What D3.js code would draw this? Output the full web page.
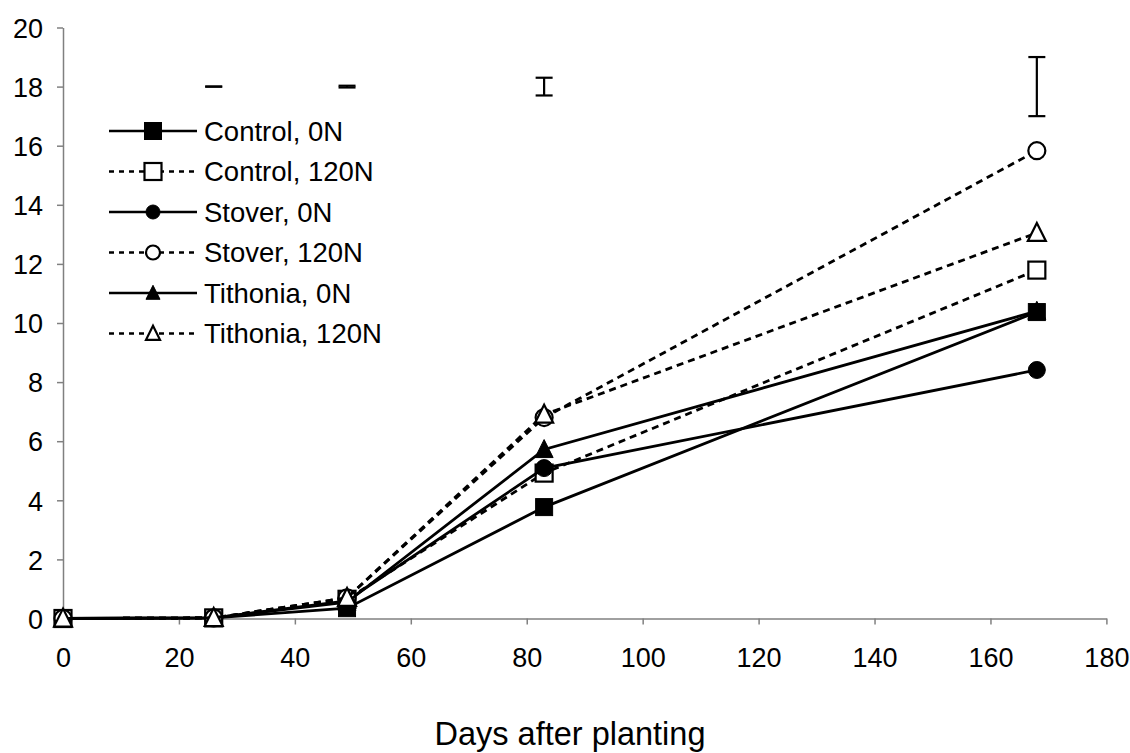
<!DOCTYPE html>
<html lang="en">
<head>
    <meta charset="utf-8">
    <title>Days after planting</title>
    <script src="https://d3js.org/d3.v7.min.js"></script>
    <style type="text/css">
        body{
            margin: 0;
            background: #fff;
        }
        text{
            font-family: "Liberation Sans", Arial, sans-serif;
            fill: #000;
        }
        .tick text{
            font-size: 27px;
        }
        .legend text{
            font-size: 27.5px;
        }
    </style>
</head>
<body>
    <div id="frame"></div>
    <script type="text/javascript">

        // days after planting
        const days = [0, 26, 49, 83, 168];

        const seriesNames = ["Control, 0N", "Control, 120N", "Stover, 0N", "Stover, 120N", "Tithonia, 0N", "Tithonia, 120N"];

        const control0 = [0, 0.02, 0.35, 3.77, 10.37];
        const control120 = [0, 0.02, 0.65, 4.92, 11.79];
        const stover0 = [0, 0.02, 0.6, 5.09, 8.41];
        const stover120 = [0, 0.02, 0.7, 6.8, 15.83];
        const tithonia0 = [0, 0.02, 0.55, 5.72, 10.4];
        const tithonia120 = [0, 0.02, 0.7, 6.9, 13.05];

        // LSD bars drawn at the top
        const errDays = [26, 49, 83, 168];
        const errCenter = [18, 18, 18, 18];
        const errHalf = [0.0, 0.03, 0.3, 1.0];

        const xTicks = [0, 20, 40, 60, 80, 100, 120, 140, 160, 180];
        const yTicks = [0, 2, 4, 6, 8, 10, 12, 14, 16, 18, 20];

        const w = 1130, h = 753;
        const mLeft = 63, mRight = 1106.4, mTop = 27.5, mBottom = 618.5;

        const svg = d3.select("#frame").append("svg")
            .attr("width", w)
            .attr("height", h);

        const x = d3.scaleLinear().domain([0, 180]).range([mLeft, mRight]);
        const y = d3.scaleLinear().domain([0, 20]).range([mBottom, mTop]);

        //axes
        const xAxis = svg.append("g")
            .attr("transform", "translate(0," + mBottom + ")")
            .call(d3.axisBottom(x).tickValues(xTicks).tickSize(6).tickPadding(22).tickSizeOuter(0));
        const yAxis = svg.append("g")
            .attr("transform", "translate(" + mLeft + ",0)")
            .call(d3.axisLeft(y).tickValues(yTicks).tickSize(6).tickPadding(14).tickSizeOuter(0));

        [xAxis, yAxis].forEach(a => {
            a.select(".domain").attr("stroke", "#808080").attr("stroke-width", 1.5);
            a.selectAll(".tick line").attr("stroke", "#808080").attr("stroke-width", 1.5);
        });
        xAxis.selectAll(".tick text").attr("dy", "0.71em").attr("y", 29);
        yAxis.selectAll(".tick text").attr("dy", "0.36em");

        svg.append("text")
            .attr("x", 570)
            .attr("y", 745)
            .attr("text-anchor", "middle")
            .style("font-size", "32.5px")
            .text("Days after planting");

        //series
        const seriesData = [control0, control120, stover0, stover120, tithonia0, tithonia120];
        const dashed = [false, true, false, true, false, true];
        const shapes = ["square", "square", "circle", "circle", "triangle", "triangle"];
        const filled = [true, false, true, false, true, false];

        const line = d3.line()
            .x((d, i) => x(days[i]))
            .y(d => y(d));

        function marker(g, shape, isFilled, size) {
            let m;
            if (shape === "square") {
                m = g.append("rect")
                    .attr("x", -size / 2).attr("y", -size / 2)
                    .attr("width", size).attr("height", size);
            } else if (shape === "circle") {
                m = g.append("circle").attr("r", size / 2);
            } else {
                const s = size;
                m = g.append("path")
                    .attr("d", "M0," + (-s * 0.55) + "L" + (s / 2) + "," + (s * 0.45) + "L" + (-s / 2) + "," + (s * 0.45) + "Z");
            }
            m.attr("fill", isFilled ? "#000" : "#fff")
                .attr("stroke", "#000")
                .attr("stroke-width", isFilled ? 1 : 2.2);
        }

        seriesData.forEach((vals, k) => {
            const g = svg.append("g");
            g.append("path")
                .attr("d", line(vals))
                .attr("fill", "none")
                .attr("stroke", "#000")
                .attr("stroke-width", 2.8)
                .attr("stroke-dasharray", dashed[k] ? "7,5" : null);
            vals.forEach((v, i) => {
                const mg = g.append("g").attr("transform", "translate(" + x(days[i]) + "," + y(v) + ")");
                marker(mg, shapes[k], filled[k], shapes[k] === "triangle" ? 18 : 17);
            });
        });

        //error bars
        const eb = svg.append("g").attr("stroke", "#000").attr("stroke-width", 2.2);
        errDays.forEach((d, i) => {
            const cx = x(d);
            const y1 = y(errCenter[i] + errHalf[i]);
            const y2 = y(errCenter[i] - errHalf[i]);
            eb.append("line").attr("x1", cx).attr("x2", cx).attr("y1", y1).attr("y2", y2);
            eb.append("line").attr("x1", cx - 8.5).attr("x2", cx + 8.5).attr("y1", y1).attr("y2", y1);
            eb.append("line").attr("x1", cx - 8.5).attr("x2", cx + 8.5).attr("y1", y2).attr("y2", y2);
        });

        //legend
        const legend = svg.append("g").attr("class", "legend");
        seriesNames.forEach((name, k) => {
            const ly = 131 + k * 40.5;
            const row = legend.append("g").attr("transform", "translate(0," + ly + ")");
            row.append("line")
                .attr("x1", 109).attr("x2", 197)
                .attr("stroke", "#000")
                .attr("stroke-width", 2.5)
                .attr("stroke-dasharray", dashed[k] ? "5,5" : null);
            const mg = row.append("g").attr("transform", "translate(153,0)");
            marker(mg, shapes[k], filled[k], shapes[k] === "square" ? 17 : 14);
            row.append("text")
                .attr("x", 204)
                .attr("dy", "0.36em")
                .text(name);
        });

    </script>
</body>
</html>
